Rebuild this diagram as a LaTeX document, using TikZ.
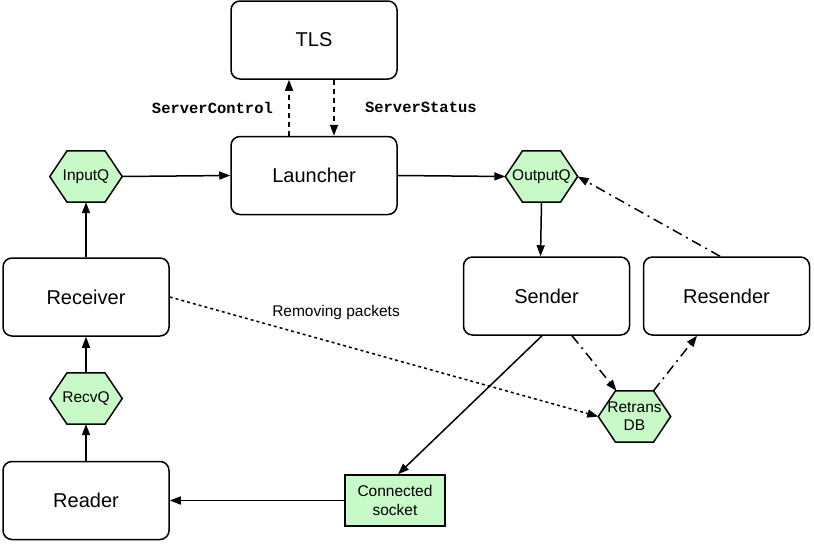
\documentclass[tikz,border=0pt]{standalone}
\usepackage{fontspec}
\setmainfont{Liberation Sans}
\setmonofont{Liberation Mono}
\usetikzlibrary{arrows.meta,calc,backgrounds}
\definecolor{qgreen}{RGB}{200,250,200}
\begin{document}
\begin{tikzpicture}[x={(1pt,0)},y={(0,-1pt)},
  box/.style={draw, line width=1.5pt, rounded corners=9pt, inner sep=0pt,
    minimum width=166pt, minimum height=78pt, font=\fontsize{20}{24}\selectfont},
  hexq/.style={inner sep=0pt, minimum width=72pt, minimum height=51pt, align=center,
    font=\fontsize{15.5}{18}\selectfont},
  hexshape/.style={draw, fill=qgreen, line width=1.5pt, line join=miter},
  sockbox/.style={draw, fill=qgreen, line width=1.5pt, inner sep=0pt, minimum width=100pt,
    minimum height=51pt, align=center, font=\fontsize{15.5}{19}\selectfont},
  conn/.style={line width=1.5pt, -{Triangle[length=11pt,width=8pt]}},
  dashconn/.style={conn, dash pattern=on 5pt off 4pt},
  dotconn/.style={conn, dash pattern=on 3pt off 3pt},
  dashdotconn/.style={conn, dash pattern=on 10pt off 5pt on 2pt off 5pt},
  monolabel/.style={font=\fontsize{15.5}{18}\selectfont\ttfamily\bfseries},
  plainlabel/.style={font=\fontsize{15.5}{18}\selectfont}
]
\useasboundingbox (0,0) rectangle (814,546);

% boxes
\node[box] (tls) at (314,40) {TLS};
\node[box] (launch) at (314,175.5) {Launcher};
\node[box] (recv) at (86,297) {Receiver};
\node[box] (reader) at (86,500.5) {Reader};
\node[box] (send) at (546.5,296) {Sender};
\node[box] (resend) at (726.5,296) {Resender};
\node[sockbox] (sock) at (395,500.5) {Connected\\socket};

% queues
\node[hexq] (inq) at (86,176.5) {InputQ};
\node[hexq] (outq) at (541.5,176.5) {OutputQ};
\node[hexq] (rq) at (86,398.5) {RecvQ};
\node[hexq] (rdb) at (634.5,416.5) {Retrans\\DB};

\begin{scope}[on background layer]
\foreach \n in {inq,outq,rq,rdb}{
  \filldraw[hexshape] (\n.west) -- ($(\n.north)+(-19,0)$) -- ($(\n.north)+(19,0)$)
    -- (\n.east) -- ($(\n.south)+(19,0)$) -- ($(\n.south)+(-19,0)$) -- cycle;
}
\end{scope}

% connectors
\draw[dashconn] ($(launch.north)+(-25,0)$) -- ($(tls.south)+(-25,0)$)
  node[midway, left=12pt, monolabel] {ServerControl};
\draw[dashconn] ($(tls.south)+(20,0)$) -- ($(launch.north)+(20,0)$)
  node[midway, right=27pt, monolabel] {ServerStatus};
\draw[conn] (inq.east) -- (launch.west);
\draw[conn] (launch.east) -- (outq.west);
\draw[conn] (outq.south) -- ($(send.north)+(-6,0)$);
\draw[dashdotconn] ($(resend.north)+(-6.5,0)$) -- (outq.east);
\draw[conn] (recv.north) -- (inq.south);
\draw[conn] (rq.north) -- (recv.south);
\draw[conn] (reader.north) -- (rq.south);
\draw[conn] (sock.west) -- (reader.east);
\draw[conn] ($(send.south)+(-4.5,0)$) -- ($(sock.north)+(3,0)$);
\draw[dotconn] (recv.east) -- (rdb.west)
  node[pos=0.388, yshift=31pt, plainlabel] {Removing packets};
\draw[dashdotconn] ($(send.south)+(25.5,0)$) -- ($(rdb.north)+(-18,0)$);
\draw[dashdotconn] ($(rdb.north)+(19,0)$) -- ($(resend.south)+(-29.5,0)$);
\end{tikzpicture}
\end{document}
